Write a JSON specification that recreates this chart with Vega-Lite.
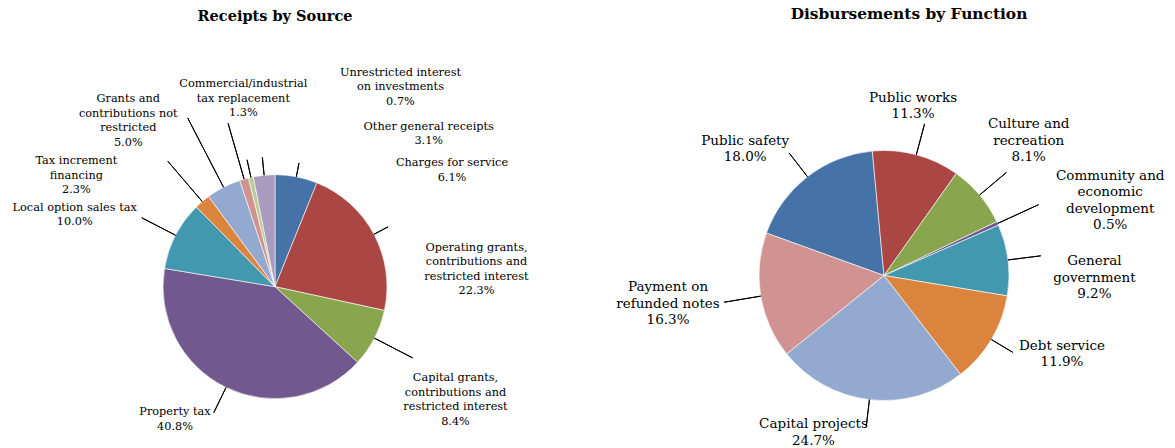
{
  "$schema": "https://vega.github.io/schema/vega-lite/v6.json",
  "padding": {"left": 0, "top": 6, "right": 0, "bottom": 0},
  "spacing": 66,
  "config": {"view": {"stroke": null}},
  "resolve": {"scale": {"theta": "independent", "color": "independent"}},
  "hconcat": [
    {
      "width": 550,
      "height": 323.4,
      "title": {"text": "Receipts by Source", "font": "DejaVu Serif", "fontSize": 14.5, "fontWeight": "bold", "color": "#000000", "anchor": "middle", "frame": "group", "offset": 41.7},
      "data": {"values": [
        {"Source": "Charges for service", "Percent": 6.1, "label": ["Charges for service", "6.1%"]},
        {"Source": "Operating grants, contributions and restricted interest", "Percent": 22.3, "label": ["Operating grants,", "contributions and", "restricted interest", "22.3%"]},
        {"Source": "Capital grants, contributions and restricted interest", "Percent": 8.4, "label": ["Capital grants,", "contributions and", "restricted interest", "8.4%"]},
        {"Source": "Property tax", "Percent": 40.8, "label": ["Property tax", "40.8%"]},
        {"Source": "Local option sales tax", "Percent": 10.0, "label": ["Local option sales tax", "10.0%"]},
        {"Source": "Tax increment financing", "Percent": 2.3, "label": ["Tax increment", "financing", "2.3%"]},
        {"Source": "Grants and contributions not restricted", "Percent": 5.0, "label": ["Grants and", "contributions not", "restricted", "5.0%"]},
        {"Source": "Commercial/industrial tax replacement", "Percent": 1.3, "label": ["Commercial/industrial", "tax replacement", "1.3%"]},
        {"Source": "Unrestricted interest on investments", "Percent": 0.7, "label": ["Unrestricted interest", "on investments", "0.7%"]},
        {"Source": "Other general receipts", "Percent": 3.1, "label": ["Other general receipts", "3.1%"]}
      ]},
      "transform": [
        {"window": [{"op": "row_number", "as": "rank"}]},
        {"stack": "Percent", "groupby": [], "sort": [{"field": "rank", "order": "ascending"}], "as": ["p0", "p1"]}
      ],
      "layer": [
        {
          "mark": {"type": "arc", "outerRadius": 112, "stroke": "#ffffff", "strokeWidth": 0.6},
          "encoding": {
            "theta": {"field": "p0", "type": "quantitative", "stack": null, "scale": {"domain": [0, 100], "range": [0, 6.283185]}},
            "theta2": {"field": "p1"},
            "color": {"field": "Source", "type": "nominal", "legend": null, "scale": {
              "domain": ["Charges for service", "Operating grants, contributions and restricted interest", "Capital grants, contributions and restricted interest", "Property tax", "Local option sales tax", "Tax increment financing", "Grants and contributions not restricted", "Commercial/industrial tax replacement", "Unrestricted interest on investments", "Other general receipts"],
              "range": ["#4572A7", "#AA4643", "#89A54E", "#71588F", "#4198AF", "#DB843D", "#93A9CF", "#D19392", "#B9CD96", "#A99BBD"]}}
          }
        },
        {
          "transform": [{"filter": {"field": "Source", "equal": "Charges for service"}}],
          "encoding": {"theta": {"field": "p0", "type": "quantitative", "stack": null, "scale": {"domain": [0, 100], "range": [0, 6.283185]}}},
          "layer": [
            {"mark": {"type": "arc", "innerRadius": 112, "outerRadius": 126, "padAngle": 3, "filled": false, "stroke": "#000000", "strokeWidth": 1}, "encoding": {"theta2": {"field": "p1"}}},
            {"mark": {"type": "text", "radius": 126, "dx": 177, "dy": 2.55, "align": "center", "baseline": "middle", "font": "DejaVu Serif", "fontSize": 11.3, "lineHeight": 14.5, "color": "#000000"}, "encoding": {"text": {"field": "label"}}}
          ]
        },
        {
          "transform": [{"filter": {"field": "Source", "equal": "Operating grants, contributions and restricted interest"}}],
          "encoding": {"theta": {"field": "p0", "type": "quantitative", "stack": null, "scale": {"domain": [0, 100], "range": [0, 6.283185]}}},
          "layer": [
            {"mark": {"type": "arc", "innerRadius": 112, "outerRadius": 128, "padAngle": 3, "filled": false, "stroke": "#000000", "strokeWidth": 1}, "encoding": {"theta2": {"field": "p1"}}},
            {"mark": {"type": "text", "radius": 128, "dx": 153.6, "dy": 79.55, "align": "center", "baseline": "middle", "font": "DejaVu Serif", "fontSize": 11.3, "lineHeight": 14.5, "color": "#000000"}, "encoding": {"text": {"field": "label"}}}
          ]
        },
        {
          "transform": [{"filter": {"field": "Source", "equal": "Capital grants, contributions and restricted interest"}}],
          "encoding": {"theta": {"field": "p0", "type": "quantitative", "stack": null, "scale": {"domain": [0, 100], "range": [0, 6.283185]}}},
          "layer": [
            {"mark": {"type": "arc", "innerRadius": 112, "outerRadius": 155, "padAngle": 3, "filled": false, "stroke": "#000000", "strokeWidth": 1}, "encoding": {"theta2": {"field": "p1"}}},
            {"mark": {"type": "text", "radius": 155, "dx": 29, "dy": 58.65, "align": "center", "baseline": "middle", "font": "DejaVu Serif", "fontSize": 11.3, "lineHeight": 14.5, "color": "#000000"}, "encoding": {"text": {"field": "label"}}}
          ]
        },
        {
          "transform": [{"filter": {"field": "Source", "equal": "Property tax"}}],
          "encoding": {"theta": {"field": "p0", "type": "quantitative", "stack": null, "scale": {"domain": [0, 100], "range": [0, 6.283185]}}},
          "layer": [
            {"mark": {"type": "arc", "innerRadius": 112, "outerRadius": 140, "padAngle": 3, "filled": false, "stroke": "#000000", "strokeWidth": 1}, "encoding": {"theta2": {"field": "p1"}}},
            {"mark": {"type": "text", "radius": 140, "dx": -203.3, "dy": 30.85, "align": "center", "baseline": "middle", "font": "DejaVu Serif", "fontSize": 11.3, "lineHeight": 14.5, "color": "#000000"}, "encoding": {"text": {"field": "label"}}}
          ]
        },
        {
          "transform": [{"filter": {"field": "Source", "equal": "Local option sales tax"}}],
          "encoding": {"theta": {"field": "p0", "type": "quantitative", "stack": null, "scale": {"domain": [0, 100], "range": [0, 6.283185]}}},
          "layer": [
            {"mark": {"type": "arc", "innerRadius": 112, "outerRadius": 150, "padAngle": 3, "filled": false, "stroke": "#000000", "strokeWidth": 1}, "encoding": {"theta2": {"field": "p1"}}},
            {"mark": {"type": "text", "radius": 150, "dx": -52.3, "dy": -54.35, "align": "center", "baseline": "middle", "font": "DejaVu Serif", "fontSize": 11.3, "lineHeight": 14.5, "color": "#000000"}, "encoding": {"text": {"field": "label"}}}
          ]
        },
        {
          "transform": [{"filter": {"field": "Source", "equal": "Tax increment financing"}}],
          "encoding": {"theta": {"field": "p0", "type": "quantitative", "stack": null, "scale": {"domain": [0, 100], "range": [0, 6.283185]}}},
          "layer": [
            {"mark": {"type": "arc", "innerRadius": 112, "outerRadius": 165, "padAngle": 3, "filled": false, "stroke": "#000000", "strokeWidth": 1}, "encoding": {"theta2": {"field": "p1"}}},
            {"mark": {"type": "text", "radius": 165, "dx": -82.7, "dy": -8, "align": "center", "baseline": "middle", "font": "DejaVu Serif", "fontSize": 11.3, "lineHeight": 14.5, "color": "#000000"}, "encoding": {"text": {"field": "label"}}}
          ]
        },
        {
          "transform": [{"filter": {"field": "Source", "equal": "Grants and contributions not restricted"}}],
          "encoding": {"theta": {"field": "p0", "type": "quantitative", "stack": null, "scale": {"domain": [0, 100], "range": [0, 6.283185]}}},
          "layer": [
            {"mark": {"type": "arc", "innerRadius": 112, "outerRadius": 190, "padAngle": 3, "filled": false, "stroke": "#000000", "strokeWidth": 1}, "encoding": {"theta2": {"field": "p1"}}},
            {"mark": {"type": "text", "radius": 190, "dx": -34.1, "dy": -34.45, "align": "center", "baseline": "middle", "font": "DejaVu Serif", "fontSize": 11.3, "lineHeight": 14.5, "color": "#000000"}, "encoding": {"text": {"field": "label"}}}
          ]
        },
        {
          "transform": [{"filter": {"field": "Source", "equal": "Commercial/industrial tax replacement"}}],
          "encoding": {"theta": {"field": "p0", "type": "quantitative", "stack": null, "scale": {"domain": [0, 100], "range": [0, 6.283185]}}},
          "layer": [
            {"mark": {"type": "arc", "innerRadius": 112, "outerRadius": 170, "padAngle": 3, "filled": false, "stroke": "#000000", "strokeWidth": 1}, "encoding": {"theta2": {"field": "p1"}}},
            {"mark": {"type": "text", "radius": 170, "dx": 21.9, "dy": -40.9, "align": "center", "baseline": "middle", "font": "DejaVu Serif", "fontSize": 11.3, "lineHeight": 14.5, "color": "#000000"}, "encoding": {"text": {"field": "label"}}}
          ]
        },
        {
          "transform": [{"filter": {"field": "Source", "equal": "Unrestricted interest on investments"}}],
          "encoding": {"theta": {"field": "p0", "type": "quantitative", "stack": null, "scale": {"domain": [0, 100], "range": [0, 6.283185]}}},
          "layer": [
            {"mark": {"type": "arc", "innerRadius": 112, "outerRadius": 130, "padAngle": 3, "filled": false, "stroke": "#000000", "strokeWidth": 1}, "encoding": {"theta2": {"field": "p1"}}},
            {"mark": {"type": "text", "radius": 130, "dx": 156.2, "dy": -87.7, "align": "center", "baseline": "middle", "font": "DejaVu Serif", "fontSize": 11.3, "lineHeight": 14.5, "color": "#000000"}, "encoding": {"text": {"field": "label"}}}
          ]
        },
        {
          "transform": [{"filter": {"field": "Source", "equal": "Other general receipts"}}],
          "encoding": {"theta": {"field": "p0", "type": "quantitative", "stack": null, "scale": {"domain": [0, 100], "range": [0, 6.283185]}}},
          "layer": [
            {"mark": {"type": "arc", "innerRadius": 112, "outerRadius": 130, "padAngle": 3, "filled": false, "stroke": "#000000", "strokeWidth": 1}, "encoding": {"theta2": {"field": "p1"}}},
            {"mark": {"type": "text", "radius": 130, "dx": 178.9, "dy": -32.45, "align": "center", "baseline": "middle", "font": "DejaVu Serif", "fontSize": 11.3, "lineHeight": 14.5, "color": "#000000"}, "encoding": {"text": {"field": "label"}}}
          ]
        }
      ]
    },
    {
      "width": 500,
      "height": 301,
      "title": {"text": "Disbursements by Function", "font": "DejaVu Serif", "fontSize": 15.4, "fontWeight": "bold", "color": "#000000", "anchor": "middle", "frame": "group", "offset": 68.7, "dx": 25},
      "data": {"values": [
        {"Function": "Public safety", "Percent": 18.0, "label": ["Public safety", "18.0%"]},
        {"Function": "Public works", "Percent": 11.3, "label": ["Public works", "11.3%"]},
        {"Function": "Culture and recreation", "Percent": 8.1, "label": ["Culture and", "recreation", "8.1%"]},
        {"Function": "Community and economic development", "Percent": 0.5, "label": ["Community and", "economic", "development", "0.5%"]},
        {"Function": "General government", "Percent": 9.2, "label": ["General", "government", "9.2%"]},
        {"Function": "Debt service", "Percent": 11.9, "label": ["Debt service", "11.9%"]},
        {"Function": "Capital projects", "Percent": 24.7, "label": ["Capital projects", "24.7%"]},
        {"Function": "Payment on refunded notes", "Percent": 16.3, "label": ["Payment on", "refunded notes", "16.3%"]}
      ]},
      "transform": [
        {"window": [{"op": "row_number", "as": "rank"}]},
        {"stack": "Percent", "groupby": [], "sort": [{"field": "rank", "order": "ascending"}], "as": ["p0", "p1"]}
      ],
      "layer": [
        {
          "mark": {"type": "arc", "outerRadius": 125, "stroke": "#ffffff", "strokeWidth": 0.6},
          "encoding": {
            "theta": {"field": "p0", "type": "quantitative", "stack": null, "scale": {"domain": [0, 100], "range": [5.0587, 11.3419]}},
            "theta2": {"field": "p1"},
            "color": {"field": "Function", "type": "nominal", "legend": null, "scale": {
              "domain": ["Public safety", "Public works", "Culture and recreation", "Community and economic development", "General government", "Debt service", "Capital projects", "Payment on refunded notes"],
              "range": ["#4572A7", "#AA4643", "#89A54E", "#71588F", "#4198AF", "#DB843D", "#93A9CF", "#D19392"]}}
          }
        },
        {
          "transform": [{"filter": {"field": "Function", "equal": "Public safety"}}],
          "encoding": {"theta": {"field": "p0", "type": "quantitative", "stack": null, "scale": {"domain": [0, 100], "range": [5.0587, 11.3419]}}},
          "layer": [
            {"mark": {"type": "arc", "innerRadius": 125, "outerRadius": 155, "padAngle": 3, "filled": false, "stroke": "#000000", "strokeWidth": 1}, "encoding": {"theta2": {"field": "p1"}}},
            {"mark": {"type": "text", "radius": 155, "dx": 7, "dy": -82.15, "align": "center", "baseline": "middle", "font": "DejaVu Serif", "fontSize": 13.5, "lineHeight": 16.5, "color": "#000000"}, "encoding": {"text": {"field": "label"}}}
          ]
        },
        {
          "transform": [{"filter": {"field": "Function", "equal": "Public works"}}],
          "encoding": {"theta": {"field": "p0", "type": "quantitative", "stack": null, "scale": {"domain": [0, 100], "range": [5.0587, 11.3419]}}},
          "layer": [
            {"mark": {"type": "arc", "innerRadius": 125, "outerRadius": 157, "padAngle": 3, "filled": false, "stroke": "#000000", "strokeWidth": 1}, "encoding": {"theta2": {"field": "p1"}}},
            {"mark": {"type": "text", "radius": 157, "dx": 43.7, "dy": -21.45, "align": "center", "baseline": "middle", "font": "DejaVu Serif", "fontSize": 13.5, "lineHeight": 16.5, "color": "#000000"}, "encoding": {"text": {"field": "label"}}}
          ]
        },
        {
          "transform": [{"filter": {"field": "Function", "equal": "Culture and recreation"}}],
          "encoding": {"theta": {"field": "p0", "type": "quantitative", "stack": null, "scale": {"domain": [0, 100], "range": [5.0587, 11.3419]}}},
          "layer": [
            {"mark": {"type": "arc", "innerRadius": 125, "outerRadius": 160, "padAngle": 3, "filled": false, "stroke": "#000000", "strokeWidth": 1}, "encoding": {"theta2": {"field": "p1"}}},
            {"mark": {"type": "text", "radius": 160, "dx": 52.2, "dy": -20.8, "align": "center", "baseline": "middle", "font": "DejaVu Serif", "fontSize": 13.5, "lineHeight": 16.5, "color": "#000000"}, "encoding": {"text": {"field": "label"}}}
          ]
        },
        {
          "transform": [{"filter": {"field": "Function", "equal": "Community and economic development"}}],
          "encoding": {"theta": {"field": "p0", "type": "quantitative", "stack": null, "scale": {"domain": [0, 100], "range": [5.0587, 11.3419]}}},
          "layer": [
            {"mark": {"type": "arc", "innerRadius": 125, "outerRadius": 170, "padAngle": 3, "filled": false, "stroke": "#000000", "strokeWidth": 1}, "encoding": {"theta2": {"field": "p1"}}},
            {"mark": {"type": "text", "radius": 170, "dx": 72.8, "dy": -26.75, "align": "center", "baseline": "middle", "font": "DejaVu Serif", "fontSize": 13.5, "lineHeight": 16.5, "color": "#000000"}, "encoding": {"text": {"field": "label"}}}
          ]
        },
        {
          "transform": [{"filter": {"field": "Function", "equal": "General government"}}],
          "encoding": {"theta": {"field": "p0", "type": "quantitative", "stack": null, "scale": {"domain": [0, 100], "range": [5.0587, 11.3419]}}},
          "layer": [
            {"mark": {"type": "arc", "innerRadius": 125, "outerRadius": 158, "padAngle": 3, "filled": false, "stroke": "#000000", "strokeWidth": 1}, "encoding": {"theta2": {"field": "p1"}}},
            {"mark": {"type": "text", "radius": 158, "dx": 65.7, "dy": 49.3, "align": "center", "baseline": "middle", "font": "DejaVu Serif", "fontSize": 13.5, "lineHeight": 16.5, "color": "#000000"}, "encoding": {"text": {"field": "label"}}}
          ]
        },
        {
          "transform": [{"filter": {"field": "Function", "equal": "Debt service"}}],
          "encoding": {"theta": {"field": "p0", "type": "quantitative", "stack": null, "scale": {"domain": [0, 100], "range": [5.0587, 11.3419]}}},
          "layer": [
            {"mark": {"type": "arc", "innerRadius": 125, "outerRadius": 150, "padAngle": 3, "filled": false, "stroke": "#000000", "strokeWidth": 1}, "encoding": {"theta2": {"field": "p1"}}},
            {"mark": {"type": "text", "radius": 150, "dx": 30, "dy": 45.75, "align": "center", "baseline": "middle", "font": "DejaVu Serif", "fontSize": 13.5, "lineHeight": 16.5, "color": "#000000"}, "encoding": {"text": {"field": "label"}}}
          ]
        },
        {
          "transform": [{"filter": {"field": "Function", "equal": "Capital projects"}}],
          "encoding": {"theta": {"field": "p0", "type": "quantitative", "stack": null, "scale": {"domain": [0, 100], "range": [5.0587, 11.3419]}}},
          "layer": [
            {"mark": {"type": "arc", "innerRadius": 125, "outerRadius": 152, "padAngle": 3, "filled": false, "stroke": "#000000", "strokeWidth": 1}, "encoding": {"theta2": {"field": "p1"}}},
            {"mark": {"type": "text", "radius": 152, "dx": -163.6, "dy": 28.35, "align": "center", "baseline": "middle", "font": "DejaVu Serif", "fontSize": 13.5, "lineHeight": 16.5, "color": "#000000"}, "encoding": {"text": {"field": "label"}}}
          ]
        },
        {
          "transform": [{"filter": {"field": "Function", "equal": "Payment on refunded notes"}}],
          "encoding": {"theta": {"field": "p0", "type": "quantitative", "stack": null, "scale": {"domain": [0, 100], "range": [5.0587, 11.3419]}}},
          "layer": [
            {"mark": {"type": "arc", "innerRadius": 125, "outerRadius": 162, "padAngle": 3, "filled": false, "stroke": "#000000", "strokeWidth": 1}, "encoding": {"theta2": {"field": "p1"}}},
            {"mark": {"type": "text", "radius": 162, "dx": -89.8, "dy": -90, "align": "center", "baseline": "middle", "font": "DejaVu Serif", "fontSize": 13.5, "lineHeight": 16.5, "color": "#000000"}, "encoding": {"text": {"field": "label"}}}
          ]
        }
      ]
    }
  ]
}
